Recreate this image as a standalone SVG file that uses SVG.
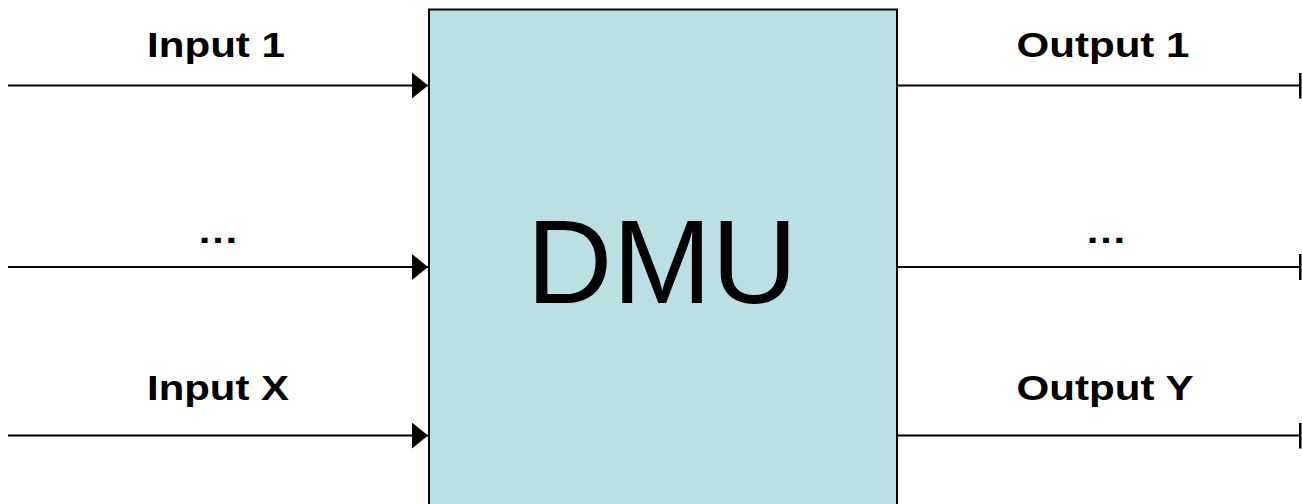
<svg xmlns="http://www.w3.org/2000/svg" width="1302" height="504" viewBox="0 0 1302 504">
<style>
.lbl{font-family:"Liberation Sans",Arial,sans-serif;font-weight:bold;font-size:35px;fill:#000;text-anchor:middle}
.big{font-family:"Liberation Sans",Arial,sans-serif;font-size:119px;fill:#000;text-anchor:middle}
.ln{stroke:#000;stroke-width:2;fill:none}
</style>
<defs>
<marker id="arr" markerUnits="userSpaceOnUse" markerWidth="18" markerHeight="28" refX="16" refY="13" orient="auto">
<polygon points="0,0 16,13 0,26" fill="#000"/>
</marker>
<marker id="tick" markerUnits="userSpaceOnUse" markerWidth="4" markerHeight="28" refX="1" refY="13" orient="auto">
<rect x="0" y="0" width="2.5" height="26" fill="#000"/>
</marker>
</defs>
<rect width="1302" height="504" fill="#fff"/>
<g id="dmu">
<rect x="429" y="9.5" width="468" height="510" fill="#BAE0E3" stroke="#000" stroke-width="2"/>
<text class="big" x="662" y="303">DMU</text>
</g>
<g id="connectors">
<line class="ln" x1="8" y1="85.5" x2="428" y2="85.5" marker-end="url(#arr)"/>
<line class="ln" x1="8" y1="267" x2="428" y2="267" marker-end="url(#arr)"/>
<line class="ln" x1="8" y1="435.5" x2="428" y2="435.5" marker-end="url(#arr)"/>
<line class="ln" x1="898" y1="85.5" x2="1300" y2="85.5" marker-end="url(#tick)"/>
<line class="ln" x1="898" y1="267" x2="1300" y2="267" marker-end="url(#tick)"/>
<line class="ln" x1="898" y1="435.5" x2="1300" y2="435.5" marker-end="url(#tick)"/>
</g>
<g id="input1"><text class="lbl" x="216" y="57" textLength="138" lengthAdjust="spacingAndGlyphs">Input 1</text></g>
<g id="inputdots"><text class="lbl" x="218" y="243" textLength="42" lengthAdjust="spacingAndGlyphs">…</text></g>
<g id="inputX"><text class="lbl" x="218" y="400" textLength="142" lengthAdjust="spacingAndGlyphs">Input X</text></g>
<g id="output1"><text class="lbl" x="1103" y="57" textLength="173" lengthAdjust="spacingAndGlyphs">Output 1</text></g>
<g id="outputdots"><text class="lbl" x="1106" y="243" textLength="42" lengthAdjust="spacingAndGlyphs">…</text></g>
<g id="outputY"><text class="lbl" x="1105" y="400" textLength="177" lengthAdjust="spacingAndGlyphs">Output Y</text></g>
</svg>
